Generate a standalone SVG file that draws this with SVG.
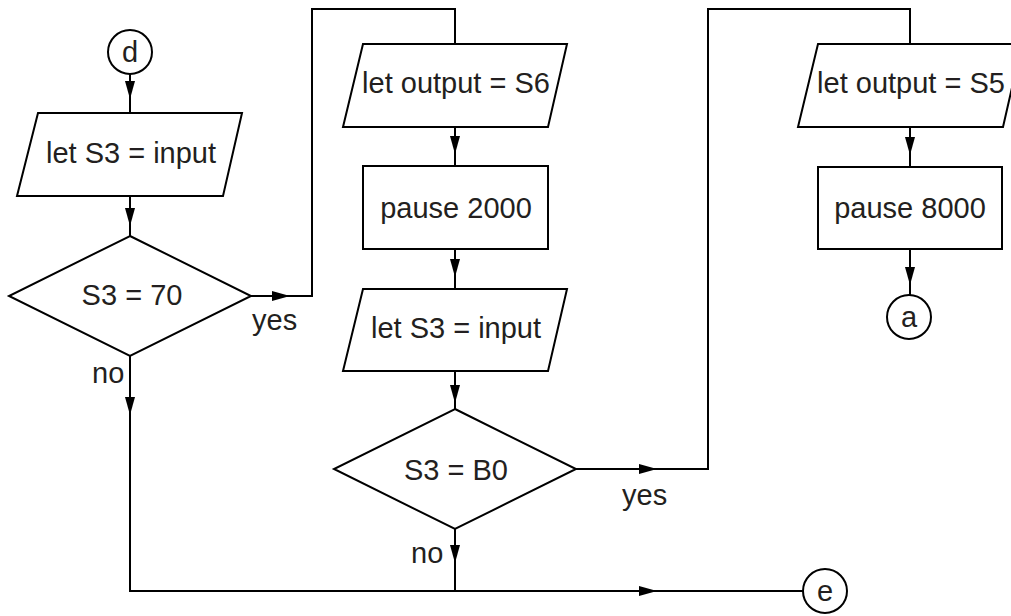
<svg xmlns="http://www.w3.org/2000/svg" width="1011" height="616" viewBox="0 0 1011 616">
<style>
.shape{fill:#fff;stroke:#000;stroke-width:2}
.ln{fill:none;stroke:#000;stroke-width:2}
.t{font-family:"Liberation Sans",Arial,sans-serif;font-size:29px;fill:#231f20;text-anchor:middle}
.lb{font-family:"Liberation Sans",Arial,sans-serif;font-size:29px;fill:#231f20}
</style>
<defs>
<marker id="ah" markerUnits="userSpaceOnUse" markerWidth="18" markerHeight="10" refX="18" refY="5" orient="auto">
<path d="M0,0 L18,5 L0,10 z" fill="#000"/>
</marker>
</defs>
<g id="connectors">
<path class="ln" d="M130,74 L130,99" marker-end="url(#ah)"/><path class="ln" d="M130,99 L130,113"/>
<path class="ln" d="M130,196 L130,226" marker-end="url(#ah)"/><path class="ln" d="M130,226 L130,236"/>
<path class="ln" d="M251,296 L290,296" marker-end="url(#ah)"/><path class="ln" d="M290,296 L312,296 L312,9 L455,9 L455,44"/>
<path class="ln" d="M130,356 L130,415" marker-end="url(#ah)"/><path class="ln" d="M130,415 L130,591 L455,591"/>
<path class="ln" d="M455,127 L455,154" marker-end="url(#ah)"/><path class="ln" d="M455,154 L455,166"/>
<path class="ln" d="M455,249 L455,277" marker-end="url(#ah)"/><path class="ln" d="M455,277 L455,289"/>
<path class="ln" d="M455,371 L455,403" marker-end="url(#ah)"/><path class="ln" d="M455,403 L455,409"/>
<path class="ln" d="M576,469 L657,469" marker-end="url(#ah)"/><path class="ln" d="M657,469 L708,469 L708,9 L910,9 L910,44"/>
<path class="ln" d="M455,529 L455,563" marker-end="url(#ah)"/><path class="ln" d="M455,563 L455,591"/>
<path class="ln" d="M455,591 L657,591" marker-end="url(#ah)"/><path class="ln" d="M657,591 L803,591"/>
<path class="ln" d="M910,127 L910,155" marker-end="url(#ah)"/><path class="ln" d="M910,155 L910,167"/>
<path class="ln" d="M910,249 L910,285" marker-end="url(#ah)"/><path class="ln" d="M910,285 L910,295"/>
<text class="lb" x="252" y="330">yes</text>
<text class="lb" x="92" y="383">no</text>
<text class="lb" x="622" y="505">yes</text>
<text class="lb" x="411" y="563">no</text>
</g>
<g id="node-d"><circle class="shape" cx="130" cy="52" r="22"/><text class="t" x="130" y="62">d</text></g>
<g id="node-input1"><polygon class="shape" points="38,113 242,113 223,196 17,196"/><text class="t" x="131" y="163">let S3 = input</text></g>
<g id="node-dec1"><polygon class="shape" points="130,236 251,296 130,356 9,296"/><text class="t" x="132" y="305">S3 = 70</text></g>
<g id="node-out6"><polygon class="shape" points="363,44 567,44 548,127 343,127"/><text class="t" x="456" y="93">let output = S6</text></g>
<g id="node-pause2000"><rect class="shape" x="363" y="166" width="185" height="83"/><text class="t" x="456" y="218">pause 2000</text></g>
<g id="node-input2"><polygon class="shape" points="363,289 567,289 548,371 343,371"/><text class="t" x="456" y="338">let S3 = input</text></g>
<g id="node-dec2"><polygon class="shape" points="455,409 576,469 455,529 334,469"/><text class="t" x="456" y="480">S3 = B0</text></g>
<g id="node-out5"><polygon class="shape" points="818,44 1022,44 1003,127 798,127"/><text class="t" x="911" y="93">let output = S5</text></g>
<g id="node-pause8000"><rect class="shape" x="818" y="167" width="184" height="82"/><text class="t" x="910" y="218">pause 8000</text></g>
<g id="node-a"><circle class="shape" cx="909" cy="317" r="22"/><text class="t" x="909" y="327">a</text></g>
<g id="node-e"><circle class="shape" cx="825" cy="591" r="22"/><text class="t" x="825" y="601">e</text></g>
</svg>
